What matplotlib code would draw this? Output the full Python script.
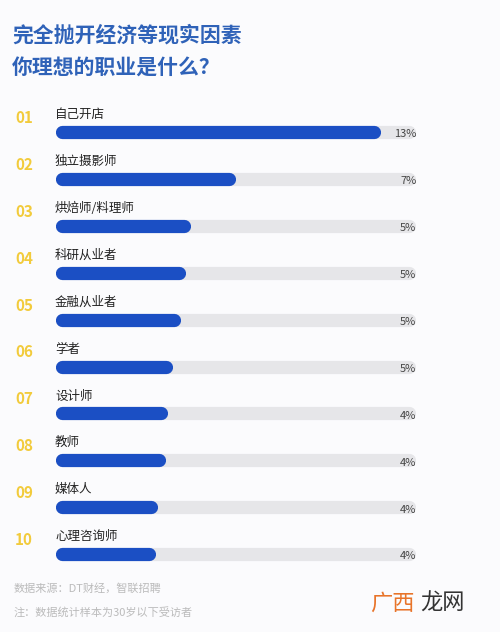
import matplotlib
matplotlib.use("Agg")
import matplotlib.pyplot as plt

plt.rcParams['font.family'] = ['Noto Sans CJK SC', 'DejaVu Sans']

jobs = ["自己开店", "独立摄影师", "烘焙师/料理师", "科研从业者", "金融从业者",
        "学者", "设计师", "教师", "媒体人", "心理咨询师"]
values = [13.0, 7.2, 5.4, 5.2, 5.0, 4.7, 4.5, 4.4, 4.1, 4.0]
labels = ["13%", "7%", "5%", "5%", "5%", "5%", "4%", "4%", "4%", "4%"]
track_max = 14.4

BLUE = "#1b4fc4"
TRACK = "#e6e6e9"
PX = 25.0       # pixels per percent
ROW = 46.9      # pixels per row

fig = plt.figure(figsize=(5, 6.32), dpi=100)
fig.patch.set_facecolor("#fbfbfd")
ax = fig.add_axes([0, 0, 1, 1])
ax.set_facecolor("#fbfbfd")
ax.set_xlim(-55 / PX, (500 - 55) / PX)
ax.set_ylim((632 - 132) / ROW, -132 / ROW)
ax.set_axis_off()

cap = 6.5 / PX
for i, (j, v, lab) in enumerate(zip(jobs, values, labels)):
    ax.plot([cap, track_max - cap], [i, i], color=TRACK, lw=9.5, solid_capstyle="round")
    ax.plot([cap, v - cap], [i, i], color=BLUE, lw=9.5, solid_capstyle="round")
    ax.text(0, i - 0.37, j, fontsize=9, color="#222", va="center", ha="left")
    ax.text(track_max + 0.05, i + 0.05, lab, fontsize=8, color="#444", va="center", ha="right")
    ax.text(-1.6, i - 0.3, f"{i + 1:02d}", fontsize=11, color="#f2cb3c",
            style="italic", weight="bold", va="center", ha="left")

fig.text(12 / 500, 1 - 35 / 632, "完全抛开经济等现实因素", fontsize=15, weight="bold",
         color="#2f62b8", va="center")
fig.text(12 / 500, 1 - 68 / 632, "你理想的职业是什么？", fontsize=15, weight="bold",
         color="#2f62b8", va="center")
fig.text(14 / 500, 1 - 588 / 632, "数据来源：DT财经，智联招聘", fontsize=8, color="#bbb", va="center")
fig.text(14 / 500, 1 - 612 / 632, "注：数据统计样本为30岁以下受访者", fontsize=8, color="#bbb", va="center")
fig.text(370 / 500, 1 - 603 / 632, "广西", fontsize=16, color="#e8742a", va="center")
fig.text(420 / 500, 1 - 603 / 632, "龙网", fontsize=16, color="#333", va="center")

fig.savefig("out.png", dpi=100, facecolor=fig.get_facecolor())
